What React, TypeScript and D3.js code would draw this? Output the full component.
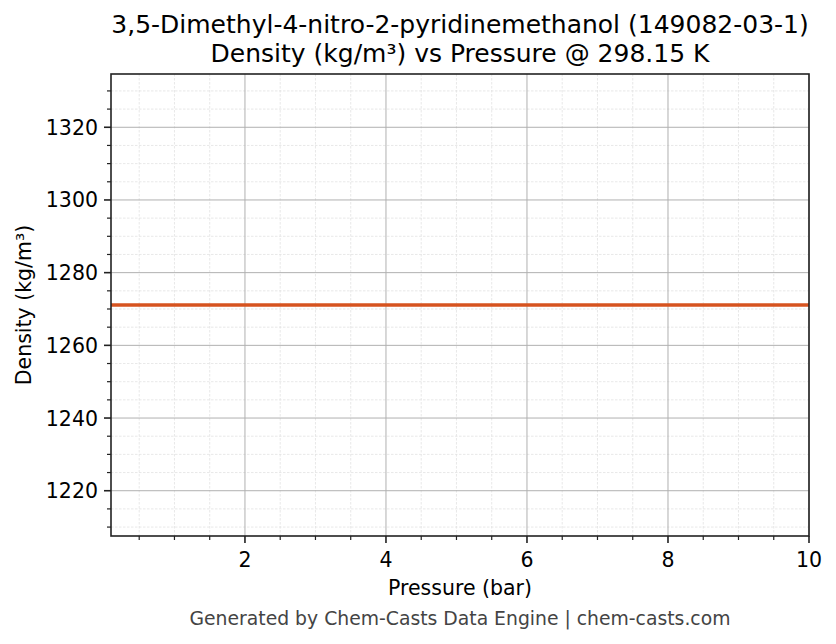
import React from "react";
import * as d3 from "d3";

const title1 = "3,5-Dimethyl-4-nitro-2-pyridinemethanol (149082-03-1)";
const title2 = "Density (kg/m³) vs Pressure @ 298.15 K";
const xLabel = "Pressure (bar)";
const yLabel = "Density (kg/m³)";
const footer = "Generated by Chem-Casts Data Engine | chem-casts.com";

const pressures = [0.1, 1, 2, 3, 4, 5, 6, 7, 8, 9, 10];
const densities = [1271.1, 1271.1, 1271.1, 1271.1, 1271.1, 1271.1, 1271.1, 1271.1, 1271.1, 1271.1, 1271.1];
const xMajorTicks = [2, 4, 6, 8, 10];
const yMajorTicks = [1220, 1240, 1260, 1280, 1300, 1320];

const W = 836;
const H = 644;
const L = 111, R = 809, T = 74, B = 536;
const FONT = "DejaVu Sans, sans-serif";

export default function App() {
  const yMid = 1271.1;
  const x = d3.scaleLinear().domain([0.1, 10]).range([L, R]);
  const y = d3.scaleLinear().domain([yMid * 0.95, yMid * 1.05]).range([B, T]);

  const xMinor = d3.range(0.5, 10.001, 0.5).filter((v) => !xMajorTicks.includes(v) && v >= 0.1 && v <= 10);
  const yMinor = d3.range(1210, 1335, 5).filter((v) => v % 20 !== 0 && v >= y.domain()[0] && v <= y.domain()[1]);

  const line = d3
    .line<number>()
    .x((_, i) => x(pressures[i]))
    .y((d) => y(d));

  return (
    <div style={{ position: "fixed", left: 0, top: 0 }}>
      <svg width={W} height={H} style={{ display: "block", background: "#fff" }} fontFamily={FONT}>
        <rect width={W} height={H} fill="#fff" />
        {/* minor grid */}
        {xMinor.map((v) => (
          <line key={"xmg" + v} x1={x(v)} x2={x(v)} y1={T} y2={B} stroke="#e2e2e2" strokeWidth={0.8} strokeDasharray="2.5,1.5" />
        ))}
        {yMinor.map((v) => (
          <line key={"ymg" + v} x1={L} x2={R} y1={y(v)} y2={y(v)} stroke="#e2e2e2" strokeWidth={0.8} strokeDasharray="2.5,1.5" />
        ))}
        {/* major grid */}
        {xMajorTicks.map((v) => (
          <line key={"xg" + v} x1={x(v)} x2={x(v)} y1={T} y2={B} stroke="#b0b0b0" strokeWidth={1} />
        ))}
        {yMajorTicks.map((v) => (
          <line key={"yg" + v} x1={L} x2={R} y1={y(v)} y2={y(v)} stroke="#b0b0b0" strokeWidth={1} />
        ))}
        {/* data line */}
        <path d={line(densities) || ""} fill="none" stroke="#d6531f" strokeWidth={3.5} />
        {/* spines */}
        <rect x={L} y={T} width={R - L} height={B - T} fill="none" stroke="#222" strokeWidth={1.6} />
        {/* x ticks */}
        {xMajorTicks.map((v) => (
          <g key={"xt" + v}>
            <line x1={x(v)} x2={x(v)} y1={B} y2={B + 7} stroke="#222" strokeWidth={1.6} />
            <text x={x(v)} y={567} textAnchor="middle" fontSize={20.5} fill="#000">
              {v}
            </text>
          </g>
        ))}
        {xMinor.map((v) => (
          <line key={"xmt" + v} x1={x(v)} x2={x(v)} y1={B} y2={B + 4} stroke="#222" strokeWidth={1.2} />
        ))}
        {/* y ticks */}
        {yMajorTicks.map((v) => (
          <g key={"yt" + v}>
            <line x1={L - 7} x2={L} y1={y(v)} y2={y(v)} stroke="#222" strokeWidth={1.6} />
            <text x={L - 13} y={y(v) + 7.5} textAnchor="end" fontSize={20.5} fill="#000">
              {v}
            </text>
          </g>
        ))}
        {yMinor.map((v) => (
          <line key={"ymt" + v} x1={L - 4} x2={L} y1={y(v)} y2={y(v)} stroke="#222" strokeWidth={1.2} />
        ))}
        {/* titles */}
        <text x={(L + R) / 2} y={33} textAnchor="middle" fontSize={25} fill="#000">
          {title1}
        </text>
        <text x={(L + R) / 2} y={61.5} textAnchor="middle" fontSize={25} fill="#000">
          {title2}
        </text>
        <text x={(L + R) / 2} y={595} textAnchor="middle" fontSize={20.5} fill="#000">
          {xLabel}
        </text>
        <text transform={`translate(31, ${(T + B) / 2}) rotate(-90)`} textAnchor="middle" fontSize={20.5} fill="#000">
          {yLabel}
        </text>
        <text x={460} y={625} textAnchor="middle" fontSize={18.8} fill="#444">
          {footer}
        </text>
      </svg>
    </div>
  );
}
